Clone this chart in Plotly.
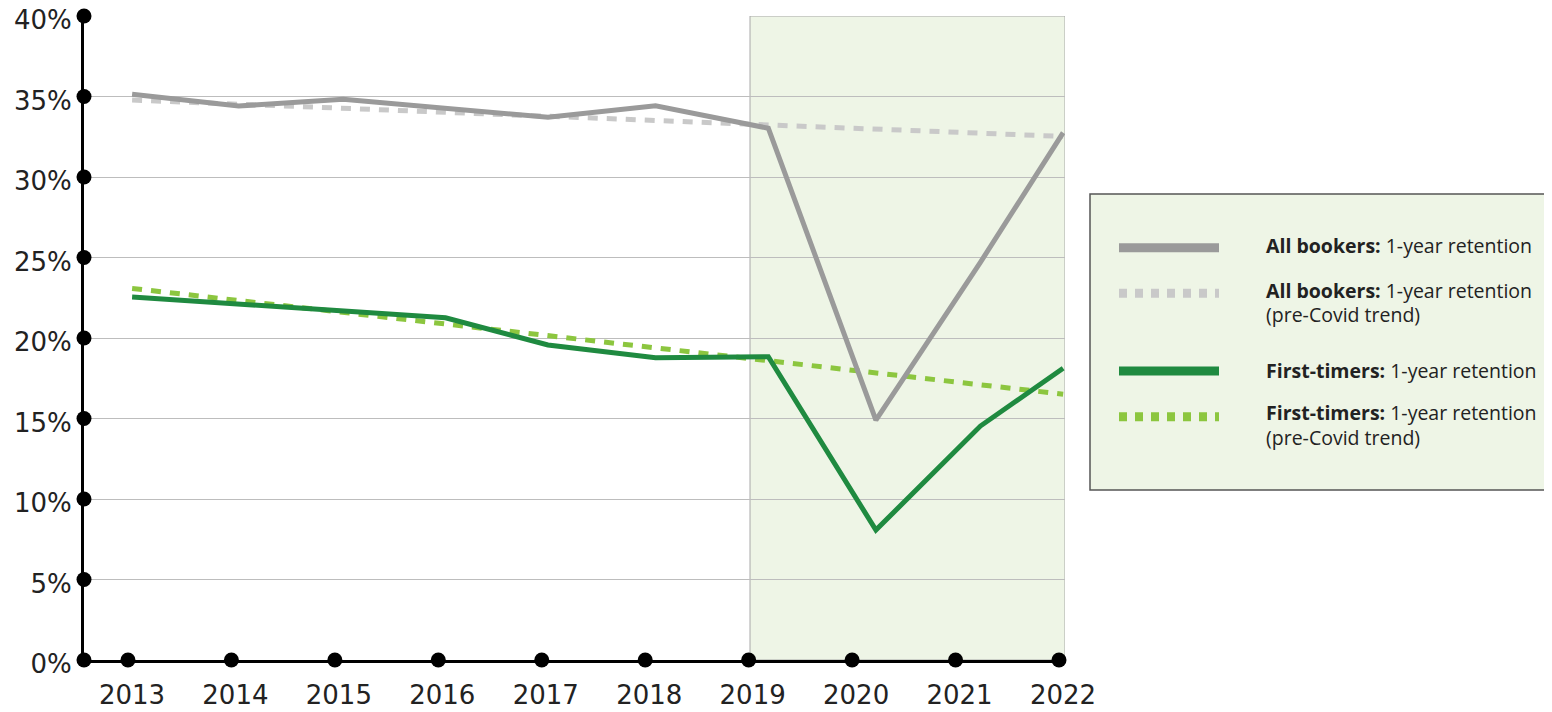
import plotly.graph_objects as go

# ---- data ----
years = [2013, 2014, 2015, 2016, 2017, 2018, 2019, 2020, 2021, 2022]
year_labels = ["2013", "2014", "2015", "2016", "2017", "2018", "2019", "2020", "2021", "2022"]
# positions at which the series points sit (slightly offset from tick marks in the original)
point_x = [2013.04, 2014.07, 2015.08, 2016.07, 2017.06, 2018.10, 2019.19, 2020.23, 2021.24, 2022.04]

all_bookers = [35.14, 34.41, 34.83, 34.24, 33.71, 34.43, 33.03, 14.9, 24.7, 32.75]
all_bookers_trend = [34.78, 34.52, 34.27, 34.02, 33.77, 33.51, 33.23, 32.97, 32.72, 32.52]
first_timers = [22.55, 22.11, 21.68, 21.26, 19.57, 18.78, 18.84, 8.07, 14.53, 18.12]
first_timers_trend = [23.08, 22.33, 21.59, 20.87, 20.14, 19.39, 18.59, 17.83, 17.10, 16.51]

y_ticks = [0, 5, 10, 15, 20, 25, 30, 35, 40]
y_labels = ["0%", "5%", "10%", "15%", "20%", "25%", "30%", "35%", "40%"]
covid_start, covid_end = 2019.013, 2022.058

legend_lines = [
    ["<b>All bookers:</b> 1-year retention"],
    ["<b>All bookers:</b> 1-year retention", "(pre-Covid trend)"],
    ["<b>First-timers:</b> 1-year retention"],
    ["<b>First-timers:</b> 1-year retention", "(pre-Covid trend)"],
]

# ---- styles ----
GRAY = "#9a9a9a"
GRAY_LIGHT = "#c9c9c9"
GREEN = "#1f8a40"
GREEN_LIGHT = "#8cc63f"
SHADE = "#eef5e6"
TICK_FONT = "DejaVu Sans"
LEG_FONT = "Open Sans"
TXT = "#222222"

X_MIN, X_MAX = 2012.575, 2022.058

fig = go.Figure()

fig.add_trace(go.Scatter(x=point_x, y=all_bookers_trend, mode="lines",
                         line=dict(color=GRAY_LIGHT, width=5, dash="10px,9px"), showlegend=False))
fig.add_trace(go.Scatter(x=point_x, y=first_timers_trend, mode="lines",
                         line=dict(color=GREEN_LIGHT, width=5, dash="10px,9px"), showlegend=False))
fig.add_trace(go.Scatter(x=point_x, y=all_bookers, mode="lines",
                         line=dict(color=GRAY, width=5), showlegend=False))
fig.add_trace(go.Scatter(x=point_x, y=first_timers, mode="lines",
                         line=dict(color=GREEN, width=5), showlegend=False))

# axis dots
fig.add_trace(go.Scatter(x=years, y=[0] * len(years), mode="markers",
                         marker=dict(color="black", size=15), cliponaxis=False, showlegend=False))
fig.add_trace(go.Scatter(x=[X_MIN] * len(y_ticks), y=y_ticks, mode="markers",
                         marker=dict(color="black", size=15), cliponaxis=False, showlegend=False))

# covid shading
fig.add_shape(type="rect", xref="x", yref="y", x0=covid_start, x1=covid_end, y0=0, y1=40,
              fillcolor=SHADE, line=dict(color="#a8a8a8", width=1), layer="below")

# ---- geometry (page has an 8px body margin, so figure coords = screen - 8) ----
OFF = 8
W, H = 1552 - OFF, 712 - OFF
L, R, T, B = 84 - OFF, 1065 - OFF, 16 - OFF, 660 - OFF
def px(xs):
    return (xs - OFF - L) / (R - L)
def py(ys):
    return (B - (ys - OFF)) / (B - T)

# ---- manual legend ----
fig.add_shape(type="rect", xref="paper", yref="paper", x0=px(1090), x1=px(1570),
              y0=py(490), y1=py(194), fillcolor=SHADE, line=dict(color="#555555", width=1.5))

legend_styles = [
    (GRAY, "solid", 247.7),
    (GRAY_LIGHT, "8px,8px", 293.3),
    (GREEN, "solid", 371),
    (GREEN_LIGHT, "8px,8px", 416.7),
]
text_rows = [[245.7], [290, 314.3], [370], [412.3, 437.3]]
for (col, dash, ly), labs, rows in zip(legend_styles, legend_lines, text_rows):
    fig.add_shape(type="line", xref="paper", yref="paper", x0=px(1119), x1=px(1219),
                  y0=py(ly), y1=py(ly), line=dict(color=col, width=9, dash=dash))
    for lab, ty in zip(labs, rows):
        fig.add_annotation(xref="paper", yref="paper", x=px(1264), y=py(ty), text=lab,
                           showarrow=False, xanchor="left", yanchor="middle", align="left",
                           font=dict(family=LEG_FONT, size=19.5, color=TXT))

fig.update_layout(
    width=W, height=H,
    margin=dict(l=L, r=W - R, t=T, b=H - B, autoexpand=False),
    paper_bgcolor="white", plot_bgcolor="white",
    font=dict(family=TICK_FONT, size=26, color=TXT),
)
fig.update_xaxes(range=[X_MIN, X_MAX], tickvals=years, ticktext=year_labels, automargin=False,
                 showgrid=False, zeroline=False, showline=True, linecolor="black", linewidth=3,
                 ticks="", ticklabelstandoff=10, ticklabelshift=4, ticklabeloverflow="allow",
                 tickfont=dict(family=TICK_FONT, size=26, color=TXT))
fig.update_yaxes(range=[0, 40], tickvals=y_ticks, ticktext=y_labels, automargin=False,
                 showgrid=True, gridcolor="#bdbdbd", gridwidth=1, zeroline=False,
                 showline=True, linecolor="black", linewidth=3,
                 ticks="", ticklabelstandoff=4, ticklabelshift=4, ticklabeloverflow="allow",
                 tickfont=dict(family=TICK_FONT, size=26, color=TXT))

fig.write_html("out.html")
